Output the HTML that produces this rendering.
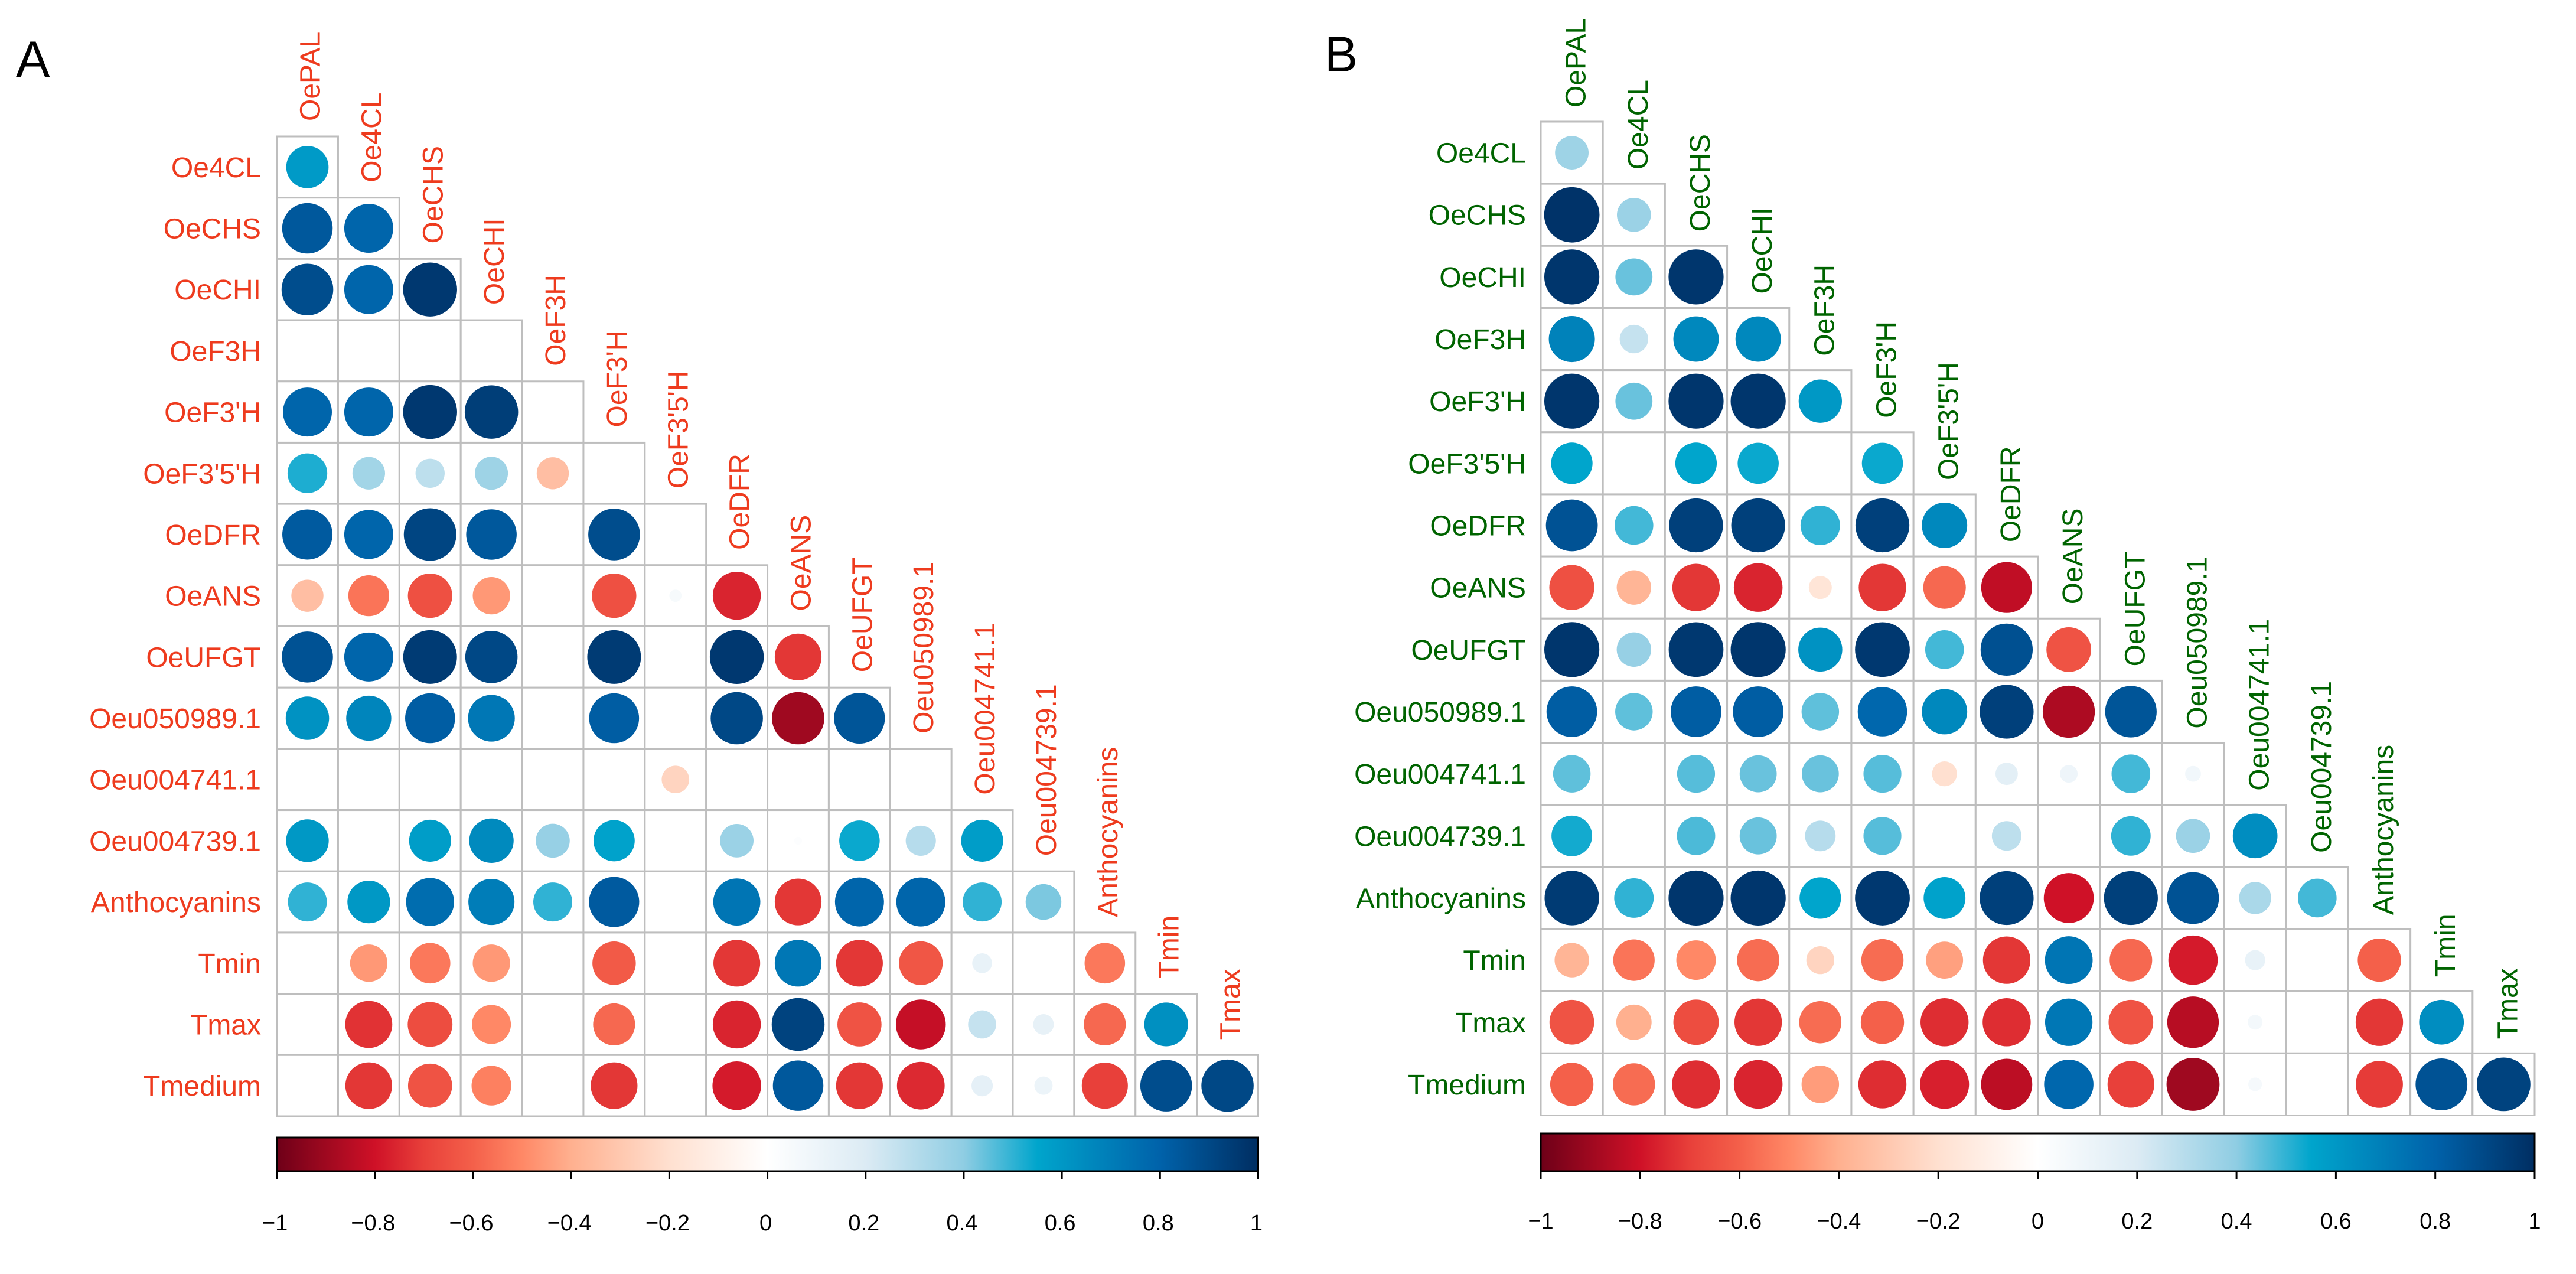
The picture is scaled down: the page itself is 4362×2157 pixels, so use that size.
<!DOCTYPE html>
<html lang="en">
<head>
<meta charset="utf-8">
<title>Correlation matrices A and B</title>
<style>
html,body{margin:0;padding:0;background:#fff;}
#figure{display:block;width:4362px;height:2157px;font-family:"Liberation Sans",sans-serif;}
</style>
</head>
<body>
<svg id="figure" xmlns="http://www.w3.org/2000/svg" width="4362" height="2157" viewBox="0 0 4362 2157">
  <rect width="4362" height="2157" fill="#ffffff"/>
  <defs>
    <linearGradient id="legend-gradient" x1="0" y1="0" x2="1" y2="0"></linearGradient>
  </defs>
  <g id="panel-a"></g>
  <g id="panel-b"></g>
</svg>
<script>
const columnVariables = ["OePAL","Oe4CL","OeCHS","OeCHI","OeF3H","OeF3'H","OeF3'5'H","OeDFR","OeANS","OeUFGT","Oeu050989.1","Oeu004741.1","Oeu004739.1","Anthocyanins","Tmin","Tmax"];
const rowVariables = ["Oe4CL","OeCHS","OeCHI","OeF3H","OeF3'H","OeF3'5'H","OeDFR","OeANS","OeUFGT","Oeu050989.1","Oeu004741.1","Oeu004739.1","Anthocyanins","Tmin","Tmax","Tmedium"];

const panelAValues = [
  [0.59],
  [0.84,0.79],
  [0.88,0.79,0.96],
  [0,0,0,0],
  [0.79,0.79,0.96,0.94,0],
  [0.52,0.35,0.28,0.36,-0.34,0],
  [0.83,0.79,0.91,0.84,0,0.88,0],
  [-0.34,-0.55,-0.65,-0.46,0,-0.65,0.05,-0.76],
  [0.86,0.79,0.95,0.90,0,0.95,0,0.96,-0.72],
  [0.62,0.67,0.82,0.72,0,0.82,0,0.90,-0.90,0.85],
  [0,0,0,0,0,0,-0.25,0,0,0,0],
  [0.60,0,0.58,0.65,0.38,0.56,0,0.37,0.02,0.54,0.30,0.58],
  [0.50,0.60,0.76,0.70,0.50,0.83,0,0.73,-0.72,0.79,0.79,0.50,0.42],
  [0,-0.46,-0.54,-0.46,0,-0.62,0,-0.72,0.72,-0.72,-0.63,0.13,0,-0.54],
  [0,-0.73,-0.66,-0.50,0,-0.58,0,-0.76,0.92,-0.64,-0.82,0.26,0.14,-0.58,0.63],
  [0,-0.72,-0.64,-0.52,0,-0.72,0,-0.78,0.84,-0.72,-0.75,0.15,0.11,-0.70,0.88,0.90]
];

const panelBValues = [
  [0.36],
  [0.98,0.37],
  [0.97,0.44,0.97],
  [0.68,0.26,0.66,0.66],
  [0.97,0.44,0.97,0.97,0.60],
  [0.55,0,0.55,0.54,0,0.54],
  [0.86,0.48,0.93,0.93,0.50,0.93,0.66],
  [-0.65,-0.38,-0.72,-0.76,-0.17,-0.72,-0.58,-0.83],
  [0.97,0.38,0.96,0.97,0.62,0.96,0.48,0.87,-0.64],
  [0.82,0.45,0.82,0.82,0.45,0.78,0.66,0.93,-0.87,0.85],
  [0.45,0,0.46,0.44,0.44,0.46,-0.20,0.16,0.10,0.48,0.08],
  [0.53,0,0.47,0.44,0.30,0.46,0,0.28,0,0.50,0.37,0.64],
  [0.95,0.50,0.97,0.97,0.55,0.96,0.56,0.93,-0.80,0.93,0.86,0.33,0.48],
  [-0.38,-0.55,-0.50,-0.57,-0.25,-0.57,-0.44,-0.72,0.73,-0.58,-0.78,0.13,0,-0.60],
  [-0.64,-0.40,-0.66,-0.72,-0.57,-0.60,-0.74,-0.74,0.72,-0.64,-0.85,0.07,0,-0.72,0.64],
  [-0.60,-0.57,-0.74,-0.76,-0.45,-0.74,-0.77,-0.84,0.78,-0.70,-0.90,0.06,0,-0.71,0.86,0.92]
];

const legendTicks = [-1,-0.8,-0.6,-0.4,-0.2,0,0.2,0.4,0.6,0.8,1];
const legendTickLabels = ["\u22121","\u22120.8","\u22120.6","\u22120.4","\u22120.2","0","0.2","0.4","0.6","0.8","1"];

const paletteValues = [-1,-0.8,-0.7,-0.6,-0.5,-0.4,-0.2,0,0.2,0.4,0.55,0.8,1];
const paletteColors = ["#6E0018","#CF1127","#E8403A","#F4604A","#FF8866","#FFB08F","#FFE0D0","#FFFFFF","#DCEBF4","#8FCDE3","#00A5CC","#0062AA","#002E62"];

const SVG_NS = "http://www.w3.org/2000/svg";

function hexToRgb(hex){
  return [parseInt(hex.slice(1,3),16),parseInt(hex.slice(3,5),16),parseInt(hex.slice(5,7),16)];
}
function colorScale(v){
  const c = Math.max(-1,Math.min(1,v));
  for(let i=0;i<paletteValues.length-1;i++){
    if(c<=paletteValues[i+1]){
      const t=(c-paletteValues[i])/(paletteValues[i+1]-paletteValues[i]);
      const a=hexToRgb(paletteColors[i]);
      const b=hexToRgb(paletteColors[i+1]);
      return "rgb("+a.map((x,k)=>Math.round(x+(b[k]-x)*t)).join(",")+")";
    }
  }
  return paletteColors[paletteColors.length-1];
}

const gradient = document.getElementById("legend-gradient");
paletteValues.forEach((v,i)=>{
  const stop=document.createElementNS(SVG_NS,"stop");
  stop.setAttribute("offset",((v+1)/2*100)+"%");
  stop.setAttribute("stop-color",paletteColors[i]);
  gradient.appendChild(stop);
});

function make(parent,tag,attrs,text){
  const el=document.createElementNS(SVG_NS,tag);
  for(const k in attrs){el.setAttribute(k,attrs[k]);}
  if(text!==undefined){el.textContent=text;}
  parent.appendChild(el);
  return el;
}

function drawPanel(root,values,g){
  const n=columnVariables.length;
  const cw=(g.right-g.left)/n;
  const ch=(g.bottom-g.top)/n;
  const xScale=c=>g.left+cw*(c+0.5);
  const yScale=r=>g.top+ch*(r+0.5);
  const radiusScale=v=>0.45*Math.sqrt(Math.abs(v))*Math.min(cw,ch);
  const legendScale=v=>g.left+(v+1)/2*(g.right-g.left);

  const letter=make(root,"text",{x:g.letterX,y:g.letterY,"font-size":g.letterSize,fill:"#000"},g.letter);
  
  

  const grid=make(root,"g",{fill:"#fff",stroke:"#BEBEBE","stroke-width":3});
  
  
  const circles=make(root,"g",{});
  
  

  values.forEach((row,r)=>{
    row.forEach((v,c)=>{
      const cell=make(grid,"rect",{x:xScale(c)-cw/2,y:yScale(r)-ch/2,width:cw,height:ch});
      
      
      const dot=make(circles,"circle",{cx:xScale(c),cy:yScale(r),r:radiusScale(v),fill:colorScale(v)});
      
      
    });
  });

  rowVariables.forEach((name,r)=>{
    const t=make(root,"text",{x:g.rowLabelRight,y:yScale(r)+17,"font-size":48,"text-anchor":"end",fill:g.labelColor},name);
    
    
  });
  columnVariables.forEach((name,c)=>{
    const bx=xScale(c)+g.colBaseOffset;
    const by=g.top+ch*c-g.colGap;
    const t=make(root,"text",{transform:"translate("+bx+","+by+") rotate(-90)","font-size":48,fill:g.labelColor},name);
    
    
  });

  const legend=make(root,"g",{});
  
  
  const bar=make(legend,"rect",{x:g.left,y:g.barTop,width:g.right-g.left,height:g.barBottom-g.barTop,fill:"url(#legend-gradient)",stroke:"#000","stroke-width":3});
  
  
  legendTicks.forEach((v,i)=>{
    const x=legendScale(v);
    const tick=make(legend,"line",{x1:x,x2:x,y1:g.barBottom,y2:g.barBottom+14,stroke:"#000","stroke-width":3});
    
    
    const lab=make(legend,"text",{x:x+g.tickLabelOffset,y:g.tickLabelY,"font-size":38,"text-anchor":"middle",fill:"#000"},legendTickLabels[i]);
    
    
  });
}

drawPanel(document.getElementById("panel-a"),panelAValues,{
  letter:"A",letterX:27,letterY:130,letterSize:86,
  left:468.6,right:2130.5,top:231,bottom:1890,
  rowLabelRight:442,colBaseOffset:21,colGap:26,labelColor:"#EE3B1E",
  barTop:1926,barBottom:1983,tickLabelY:2083,tickLabelOffset:-3
});
drawPanel(document.getElementById("panel-b"),panelBValues,{
  letter:"B",letterX:2243,letterY:121,letterSize:84,
  left:2609,right:4292,top:206,bottom:1888.5,
  rowLabelRight:2584,colBaseOffset:23,colGap:24,labelColor:"#006400",
  barTop:1919,barBottom:1983,tickLabelY:2080,tickLabelOffset:0
});
</script>
</body>
</html>
